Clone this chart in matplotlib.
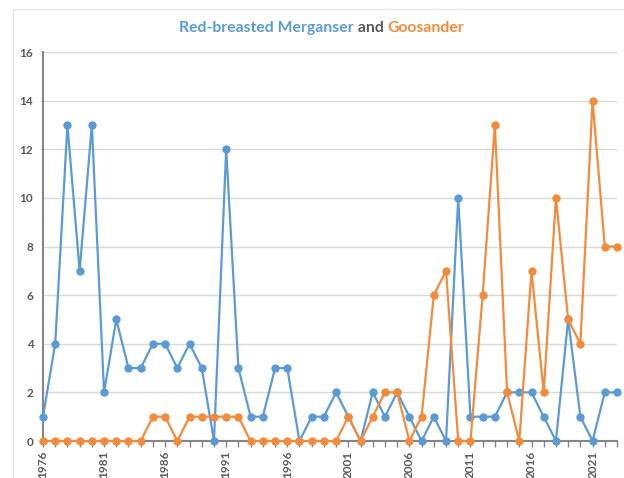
import numpy as np
import matplotlib.pyplot as plt
from matplotlib.patches import Rectangle

plt.rcParams['font.family'] = ['Lato', 'DejaVu Sans']

# Data
years = list(range(1976, 2024))
merganser = [1, 4, 13, 7, 13, 2, 5, 3, 3, 4, 4, 3, 4, 3, 0, 12, 3, 1, 1, 3,
             3, 0, 1, 1, 2, 1, 0, 2, 1, 2, 1, 0, 1, 0, 10, 1, 1, 1, 2, 2,
             2, 1, 0, 5, 1, 0, 2, 2]
goosander = [0, 0, 0, 0, 0, 0, 0, 0, 0, 1, 1, 0, 1, 1, 1, 1, 1, 0, 0, 0,
             0, 0, 0, 0, 0, 1, 0, 1, 2, 2, 0, 1, 6, 7, 0, 0, 6, 13, 2, 0,
             7, 2, 10, 5, 4, 14, 8, 8]
yticks = [0, 2, 4, 6, 8, 10, 12, 14, 16]

blue = '#5B9BD5'
orange = '#F38B3C'
grey = '#595959'

fig = plt.figure(figsize=(6.24, 4.78), dpi=100)
W, H = 624, 478

# light chart border
fig.patches.append(Rectangle((13 / W, -0.1), 1.0, 1 - 9 / H + 0.1,
                             transform=fig.transFigure, fill=False,
                             edgecolor='#E4E4E4', linewidth=1.0))

ax = fig.add_axes([43 / W, 1 - 441 / H, 574 / W, 389 / H])

ax.plot(years, merganser, '-o', color=blue, lw=1.6, ms=5, zorder=3,
        clip_on=False)
ax.plot(years, goosander, '-o', color=orange, lw=1.6, ms=5, zorder=4,
        clip_on=False)

ax.set_xlim(1976, 2023)
ax.set_ylim(0, 16)
ax.set_yticks(yticks)
ax.set_xticks(range(1976, 2024, 5))
ax.set_xticks(years, minor=True)

ax.grid(axis='y', color='#D9D9D9', lw=1.0)
ax.set_axisbelow(True)
for s in ['top', 'right']:
    ax.spines[s].set_visible(False)
for s in ['left', 'bottom']:
    ax.spines[s].set_color('#868686')
    ax.spines[s].set_linewidth(1.5)

ax.tick_params(axis='y', length=0, pad=7, labelsize=8.5, labelcolor=grey)
ax.tick_params(axis='x', which='both', direction='out', length=4,
               color='#868686', width=1, labelsize=8.5, labelcolor=grey,
               rotation=90, pad=3)
for lab in ax.get_xticklabels() + ax.get_yticklabels():
    lab.set_fontweight('bold')

# multicolour title
renderer = fig.canvas.get_renderer()
parts = [('Red-breasted Merganser', blue), (' and ', grey), ('Goosander', orange)]
texts = []
for s, c in parts:
    t = fig.text(0, 1 - 32 / H, s, color=c, fontsize=11.3, fontweight='bold',
                 va='baseline', ha='left')
    texts.append(t)
widths = [t.get_window_extent(renderer).width for t in texts]
total = sum(widths)
x0 = 322 - total / 2
for t, w in zip(texts, widths):
    t.set_x(x0 / W)
    x0 += w

fig.savefig('out.png', dpi=100)
